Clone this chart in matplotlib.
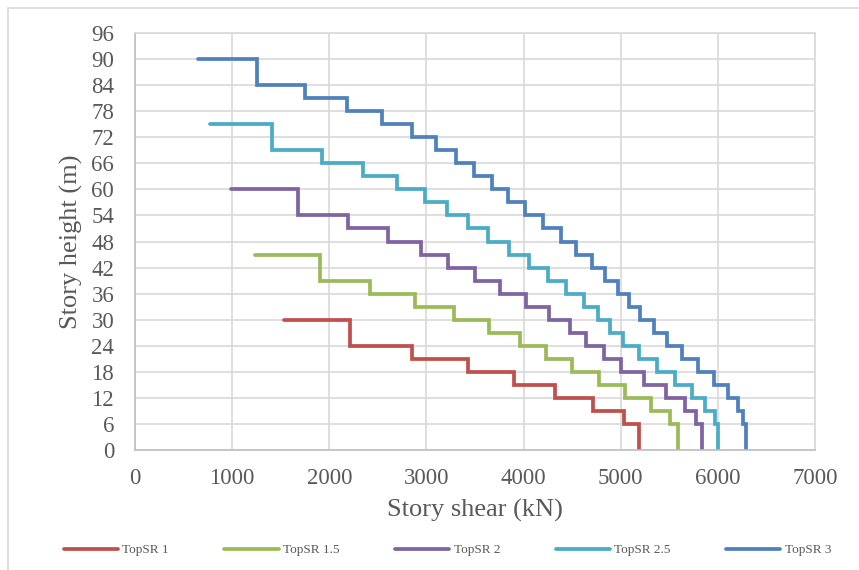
import matplotlib
matplotlib.use("Agg")
import matplotlib.pyplot as plt
from matplotlib.patches import Rectangle

# story shear (kN) at each level, top to bottom
shear_1 = [1530, 2210, 2850, 3430, 3900, 4320, 4710, 5030, 5190]
level_1 = [30, 24, 21, 18, 15, 12, 9, 6, 0]

shear_15 = [1234, 1902, 2424, 2880, 3281, 3645, 3961, 4234, 4498, 4773, 5040, 5316, 5503, 5592]
level_15 = [45, 39, 36, 33, 30, 27, 24, 21, 18, 15, 12, 9, 6, 0]

shear_2 = [988, 1674, 2195, 2607, 2940, 3227, 3497, 3761, 4028, 4258, 4481, 4645, 4824,
           5006, 5235, 5462, 5657, 5777, 5839]
level_2 = [60, 54, 51, 48, 45, 42, 39, 36, 33, 30, 27, 24, 21, 18, 15, 12, 9, 6, 0]

shear_25 = [772, 1411, 1926, 2349, 2698, 2982, 3210, 3429, 3634, 3847, 4053, 4252, 4441,
            4619, 4767, 4894, 5023, 5184, 5373, 5555, 5733, 5870, 5966, 6000]
level_25 = [75, 69, 66, 63, 60, 57, 54, 51, 48, 45, 42, 39, 36, 33, 30, 27, 24, 21, 18,
            15, 12, 9, 6, 0]

shear_3 = [652, 1252, 1752, 2185, 2546, 2855, 3097, 3307, 3492, 3670, 3841, 4018, 4200,
           4382, 4543, 4704, 4842, 4971, 5085, 5202, 5339, 5480, 5634, 5795, 5956, 6103,
           6206, 6257, 6292]
level_3 = [90, 84, 81, 78, 75, 72, 69, 66, 63, 60, 57, 54, 51, 48, 45, 42, 39, 36, 33, 30,
           27, 24, 21, 18, 15, 12, 9, 6, 0]

labels = ["TopSR 1", "TopSR 1.5", "TopSR 2", "TopSR 2.5", "TopSR 3"]
colors = ["#C0504D", "#9BBB59", "#8064A2", "#4BACC6", "#4F81BD"]

plt.rcParams["font.family"] = ["Liberation Serif", "DejaVu Serif"]

W, H = 859, 570
fig = plt.figure(figsize=(W / 100, H / 100), dpi=100)
ax = fig.add_axes([135 / W, 1 - 450 / H, (815 - 135) / W, (450 - 33) / H])

# outer chart border
fig.patches.append(Rectangle((8 / W, -0.1), 1.2, 1 - 8 / H + 0.1, transform=fig.transFigure,
                             fill=False, edgecolor="#D9D9D9", linewidth=1.2))

series = [(shear_1, level_1), (shear_15, level_15), (shear_2, level_2),
          (shear_25, level_25), (shear_3, level_3)]
for (v, h), lab, c in zip(series, labels, colors):
    ax.step(v, h, where="post", color=c, linewidth=2.7, label=lab,
            solid_capstyle="round", solid_joinstyle="miter")

ax.set_xlim(0, 7000)
ax.set_ylim(0, 96)
ax.set_xticks(range(0, 7001, 1000))
ax.set_yticks(range(0, 97, 6))
ax.grid(True, color="#D9D9D9", linewidth=1.2)
ax.set_axisbelow(True)
for s in ax.spines.values():
    s.set_color("#D9D9D9")
    s.set_linewidth(1.2)
ax.spines["left"].set_color("#BFBFBF")
ax.spines["bottom"].set_color("#BFBFBF")
ax.tick_params(length=0, labelsize=16.5, labelcolor="#595959")
ax.tick_params(axis="y", pad=15)
ax.tick_params(axis="x", pad=13)

ax.set_xlabel("Story shear (kN)", fontsize=19, color="#595959", labelpad=7)
ax.set_ylabel("Story height (m)", fontsize=19, color="#595959", labelpad=6)

fig.legend(loc="center", bbox_to_anchor=(0.5 + 18 / W, 1 - 550 / H), ncol=5, frameon=False,
           fontsize=9.5, handlelength=4.1, handletextpad=0.35, columnspacing=4.2,
           labelcolor="#595959")

fig.savefig("out.png", dpi=100)
